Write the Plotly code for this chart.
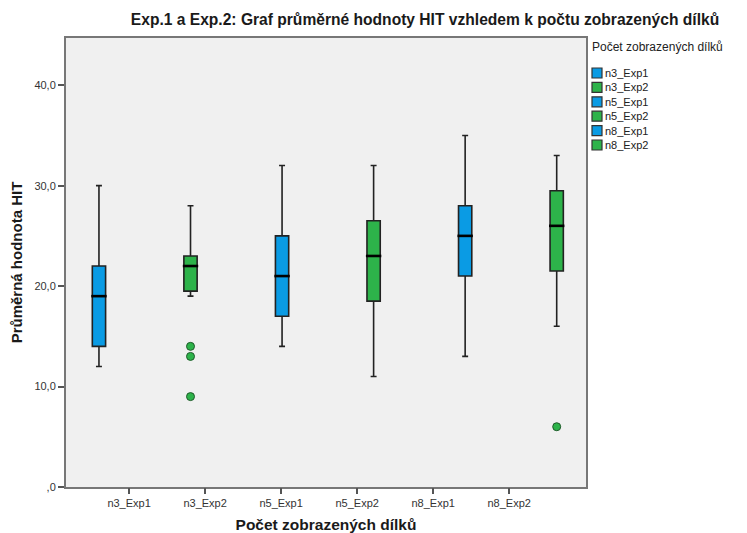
import plotly.graph_objects as go

categories = ["n3_Exp1", "n3_Exp2", "n5_Exp1", "n5_Exp2", "n8_Exp1", "n8_Exp2"]
lower_whisker = [12, 19, 14, 11, 13, 16]
q1_vals = [14, 19.5, 17, 18.5, 21, 21.5]
medians = [19, 22, 21, 23, 25, 26]
q3_vals = [22, 23, 25, 26.5, 28, 29.5]
upper_whisker = [30, 28, 32, 32, 35, 33]
outlier_cat = ["n3_Exp2", "n3_Exp2", "n3_Exp2", "n8_Exp2"]
outlier_vals = [14, 13, 9, 6]
y_tickvals = [0, 10, 20, 30, 40]
y_ticktext = [",0", "10,0", "20,0", "30,0", "40,0"]
legend_title = "Počet zobrazených dílků"

BLUE = "#0A9BE4"
GREEN = "#2DB34A"
colors = [BLUE, GREEN, BLUE, GREEN, BLUE, GREEN]

W, H = 747, 533
ML, MR, MT, MB = 66, 161, 38, 46
PW, PH = W - ML - MR, H - MT - MB

fig = go.Figure()
for i, c in enumerate(categories):
    fig.add_trace(go.Box(
        x=[c], q1=[q1_vals[i]], median=[medians[i]], q3=[q3_vals[i]],
        lowerfence=[lower_whisker[i]], upperfence=[upper_whisker[i]],
        name=c, fillcolor=colors[i], width=0.145, whiskerwidth=0.45,
        line=dict(color="#222222", width=1.6), boxpoints=False,
        xaxis="x", yaxis="y", showlegend=False,
    ))

# thick black median lines
fig.add_trace(go.Scatter(
    x=categories, y=medians, mode="markers", showlegend=False, hoverinfo="skip",
    marker=dict(symbol="line-ew", size=11, line=dict(color="black", width=2.6)),
))
# outliers
fig.add_trace(go.Scatter(
    x=outlier_cat, y=outlier_vals, mode="markers", showlegend=False,
    marker=dict(symbol="circle", size=8, color=GREEN, line=dict(color="#1f5a2a", width=1)),
))
# dummy trace to activate tick axis
fig.add_trace(go.Scatter(x=categories, y=[None]*6, xaxis="x2", showlegend=False,
                         hoverinfo="skip", mode="markers"))

# custom compact legend (SPSS style)
def px_x(px):
    return (px - ML) / PW

def px_y(py):
    return 1 - (py - MT) / PH

shapes = []
annotations = [dict(text=legend_title, xref="paper", yref="paper", x=px_x(590), y=px_y(47),
                    xanchor="left", yanchor="middle", showarrow=False,
                    font=dict(size=12, color="#222"))]
for i, c in enumerate(categories):
    yc = 73 + 14.4 * i
    shapes.append(dict(type="rect", xref="paper", yref="paper",
                       x0=px_x(592), x1=px_x(602), y0=px_y(yc - 5), y1=px_y(yc + 5),
                       fillcolor=colors[i], line=dict(color="#333", width=1.2)))
    annotations.append(dict(text=c, xref="paper", yref="paper", x=px_x(603), y=px_y(yc),
                            xanchor="left", yanchor="middle", showarrow=False,
                            font=dict(size=11, color="#222")))

font_family = "Arial, Liberation Sans, sans-serif"
fig.update_layout(
    width=W, height=H,
    margin=dict(l=ML, r=MR, t=MT, b=MB, autoexpand=False),
    paper_bgcolor="white", plot_bgcolor="#F0F0F0",
    font=dict(family=font_family, color="#333333", size=11),
    title=dict(text="<b>Exp.1 a Exp.2: Graf průměrné hodnoty HIT vzhledem k počtu zobrazených dílků</b>",
               x=425 / W, xanchor="center", y=1 - 20 / H, yanchor="middle",
               font=dict(size=15.6, color="#1a1a1a", family=font_family)),
    boxmode="overlay",
    showlegend=False,
    shapes=shapes,
    annotations=annotations,
    xaxis=dict(type="category", categoryorder="array", categoryarray=categories,
               range=[-0.36, 5.32], showticklabels=False, ticks="",
               showline=True, linecolor="#777", linewidth=2, mirror=True,
               showgrid=False, zeroline=False, automargin=False),
    xaxis2=dict(type="category", categoryorder="array", categoryarray=categories,
                range=[-0.83, 6.01], overlaying="x", side="bottom",
                ticks="outside", ticklen=6, tickcolor="#555", tickwidth=1.5,
                showline=False, showgrid=False, zeroline=False, automargin=False,
                tickfont=dict(size=11, color="#333"),
                title=dict(text="<b>Počet zobrazených dílků</b>", standoff=10,
                           font=dict(size=15.5, color="#1a1a1a"))),
    yaxis=dict(range=[0, 44.7], tickvals=y_tickvals, ticktext=y_ticktext,
               ticks="outside", ticklen=6, tickcolor="#555", tickwidth=1.5,
               showline=True, linecolor="#777", linewidth=2, mirror=True,
               showgrid=False, zeroline=False, automargin=False,
               tickfont=dict(size=11, color="#333"),
               title=dict(text="<b>Průměrná hodnota HIT</b>", standoff=8,
                          font=dict(size=15, color="#1a1a1a"))),
)

fig.write_html("out.html")
